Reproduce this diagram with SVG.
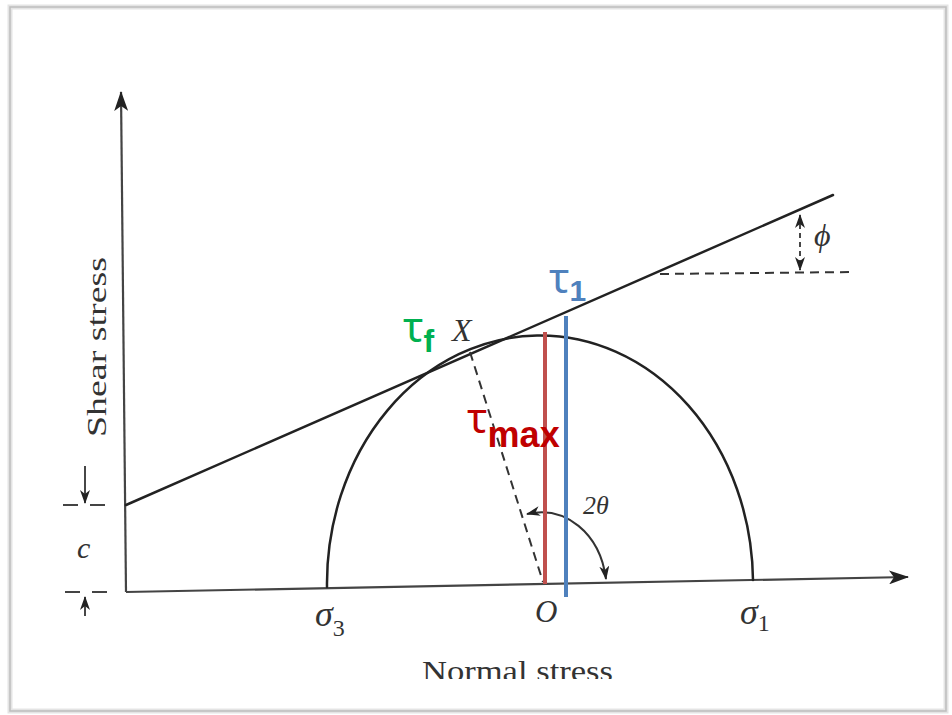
<svg xmlns="http://www.w3.org/2000/svg" width="952" height="715" viewBox="0 0 952 715">
<defs>
<marker id="ah" viewBox="0 0 20 14" refX="19" refY="7" markerWidth="20" markerHeight="14" markerUnits="userSpaceOnUse" orient="auto-start-reverse">
<path d="M0,0 L20,7 L0,14 L5,7 Z" fill="#222"/>
</marker>
<marker id="as" viewBox="0 0 14 10" refX="13" refY="5" markerWidth="14" markerHeight="10" markerUnits="userSpaceOnUse" orient="auto-start-reverse">
<path d="M0,0 L14,5 L0,10 L4,5 Z" fill="#222"/>
</marker>
<clipPath id="clipN"><rect x="0" y="0" width="952" height="679"/></clipPath>
</defs>
<style>
.ln{fill:none;stroke:#222;stroke-width:2.5;stroke-linecap:round}
.ax{fill:none;stroke:#444;stroke-width:2.2}
.ds{fill:none;stroke:#333;stroke-width:2;stroke-dasharray:9,6}
.sf{font-family:"Liberation Serif","Times New Roman",serif;font-style:italic;fill:#333}
.nf{font-family:"Liberation Serif","Times New Roman",serif;fill:#333}
.tg{font-family:"Noto Sans","Liberation Sans",Arial,sans-serif}
.sub{font-family:"Liberation Sans",Arial,sans-serif;font-weight:bold}
</style>
<rect x="0" y="0" width="952" height="715" fill="#fff"/>
<rect x="10" y="7" width="936" height="704" fill="none" stroke="#e4e4e4" stroke-width="5"/>
<rect x="10" y="7" width="936" height="704" fill="none" stroke="#bdbdbd" stroke-width="1.5"/>

<g id="connectors">
<line id="axis-y" class="ax" x1="126" y1="592" x2="121" y2="92" marker-end="url(#ah)"/>
<line id="axis-x" class="ax" x1="126" y1="592" x2="908" y2="577" marker-end="url(#ah)"/>
<line id="envelope" class="ln" x1="126" y1="505" x2="833" y2="195"/>
<path id="mohr-circle" class="ln" d="M327,587 A213,248 0 0 1 753,580"/>
<line id="radius-dash" class="ds" x1="470" y1="352" x2="543" y2="582"/>
<line id="phi-dash" class="ds" x1="660" y1="274" x2="852" y2="272"/>
<line id="phi-arrow" fill="none" stroke="#333" stroke-width="1.8" stroke-dasharray="5,4" x1="800" y1="215" x2="800" y2="270" marker-start="url(#as)" marker-end="url(#as)"/>
<path id="theta-arc" fill="none" stroke="#333" stroke-width="2" d="M527,514 C565,505 600,533 606,579" marker-start="url(#as)" marker-end="url(#as)"/>
<line class="ax" stroke-dasharray="15,12" x1="63" y1="505" x2="110" y2="505"/>
<line class="ax" stroke-dasharray="15,12" x1="65" y1="592" x2="112" y2="592"/>
<line id="c-arrow-top" fill="none" stroke="#333" stroke-width="1.8" x1="85" y1="466" x2="85" y2="503" marker-end="url(#as)"/>
<line id="c-arrow-bot" fill="none" stroke="#333" stroke-width="1.8" x1="85" y1="616" x2="85" y2="597" marker-end="url(#as)"/>
<line id="tau-max-line" stroke="#c0504d" stroke-width="4" x1="545" y1="332" x2="545" y2="584"/>
<line id="tau-1-line" stroke="#4f81bd" stroke-width="4" x1="566" y1="316" x2="566" y2="597"/>
</g>

<g id="label-shear">
<text class="nf" font-size="28" transform="translate(106,437) rotate(-90)" textLength="180" lengthAdjust="spacingAndGlyphs">Shear stress</text>
</g>
<g id="label-normal" clip-path="url(#clipN)">
<text class="nf" font-size="30" x="422" y="681" textLength="191" lengthAdjust="spacingAndGlyphs">Normal stress</text>
</g>
<g id="label-c"><text class="sf" font-size="30" x="77" y="558">c</text></g>
<g id="label-phi"><text class="sf" font-size="32" x="814" y="246">ϕ</text></g>
<g id="label-X"><text class="sf" font-size="32" x="452" y="341">X</text></g>
<g id="label-2theta"><text class="sf" font-size="26" x="583" y="514">2θ</text></g>
<g id="label-O"><text class="sf" font-size="31" x="535" y="622">O</text></g>
<g id="label-sigma3"><text class="sf" font-size="36" x="315" y="626">σ<tspan font-size="24" dy="10" font-style="normal">3</tspan></text></g>
<g id="label-sigma1"><text class="sf" font-size="36" x="740" y="624">σ<tspan font-size="24" dy="7" font-style="normal">1</tspan></text></g>

<g id="tau-f"><text class="tg" fill="#00b050" font-size="42" x="403" y="342">τ<tspan class="sub" font-size="32" dy="10">f</tspan></text></g>
<g id="tau-max"><text class="tg" fill="#c00000" font-size="42" x="467" y="433">τ<tspan class="sub" font-size="36" dy="14">max</tspan></text></g>
<g id="tau-1"><text class="tg" fill="#4f81bd" font-size="42" x="549" y="293">τ<tspan class="sub" font-size="30" dy="8">1</tspan></text></g>
</svg>
